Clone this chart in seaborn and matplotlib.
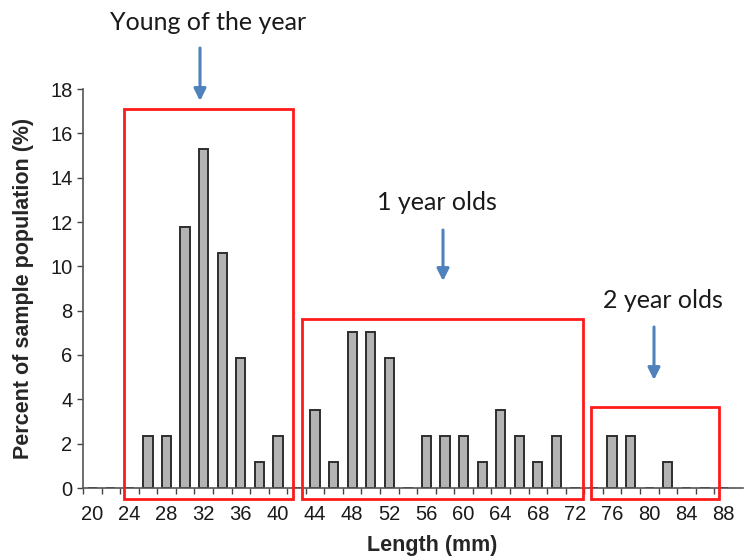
import numpy as np
import pandas as pd
import matplotlib
matplotlib.use("Agg")
import matplotlib.pyplot as plt
import seaborn as sns
from matplotlib.patches import Rectangle

# =============================================================================
# DATA
# =============================================================================
lengths = list(range(20, 90, 2))  # length classes (mm)
percent = [0, 0, 0, 2.35, 2.35, 11.76, 15.29, 10.59, 5.88, 1.18, 2.35,
           0, 3.53, 1.18, 7.06, 7.06, 5.88, 0, 2.35, 2.35, 2.35, 1.18,
           3.53, 2.35, 1.18, 2.35, 0, 0, 2.35, 2.35, 0, 1.18, 0, 0, 0]

# age groups: label, first/last length class boxed, box top (%)
groups = ["Young of the year", "1 year olds", "2 year olds"]
group_from = [23.4, 42.6, 73.7]
group_to = [41.6, 72.9, 87.5]
group_top = [17.1, 7.63, 3.64]

df = pd.DataFrame({"Length": [str(v) for v in lengths], "Percent": percent})

# =============================================================================
# PLOT
# =============================================================================
sns.set_style("ticks")
plt.rcParams['font.family'] = ['Liberation Sans', 'DejaVu Sans']

fig = plt.figure(figsize=(7.44, 5.6), dpi=100)
ax = fig.add_axes([83 / 744, 1 - 488 / 560, 660 / 744, 399 / 560])

sns.barplot(data=df, x="Length", y="Percent", order=df["Length"], ax=ax,
            color="#b3b3b3", saturation=1, edgecolor="#2e2e2e", linewidth=1.4,
            width=0.5)

n = len(lengths)
ax.set_xlim(-0.5, n - 0.5 + 0.55)
ax.set_ylim(0, 18)
ax.set_yticks(np.arange(0, 19, 2))

# ticks at category boundaries, labels every other class
ax.set_xticks(np.arange(n) - 0.5)
ax.set_xticklabels([])
ax.set_xticks(np.arange(0, n, 2), minor=True)
ax.set_xticklabels([str(v) for v in lengths[::2]], minor=True)
ax.tick_params(axis='x', which='major', length=4, width=1, color="#444444", direction='out')
ax.tick_params(axis='x', which='minor', length=0, pad=12, labelsize=14.5, labelcolor="#1a1a1a")
ax.tick_params(axis='y', length=4, width=1, color="#444444", labelsize=14.5, labelcolor="#1a1a1a")

for s in ['left', 'bottom']:
    ax.spines[s].set_color("#555555")
    ax.spines[s].set_linewidth(1.2)
sns.despine(ax=ax)

ax.set_xlabel("Length (mm)", fontsize=15.5, fontweight='bold', va='center')
ax.set_ylabel("Percent of sample population (%)", fontsize=15.5, fontweight='bold', va='center')
ax.xaxis.set_label_coords((432 - 83) / 660, -57 / 399)
ax.yaxis.set_label_coords((24 - 83) / 660, 0.5)

# red boxes around age groups (converted from mm to category position)
def to_pos(mm):
    return (mm - lengths[0]) / 2

for lo, hi, top in zip(group_from, group_to, group_top):
    x0, x1 = to_pos(lo), to_pos(hi)
    ax.add_patch(Rectangle((x0, -0.5), x1 - x0, top + 0.5, fill=False,
                           edgecolor="#ff1a1a", linewidth=2, clip_on=False, zorder=5))

# labels and arrows (figure pixels)
text_xy = [(208, 22), (437, 202), (663, 300)]
arrow_x = [200, 443, 654]
arrow_y = [(48, 101), (230, 281), (327, 380)]
for name, (tx, ty), axx, (y0, y1) in zip(groups, text_xy, arrow_x, arrow_y):
    fig.text(tx / 744, 1 - ty / 560, name, ha='center', va='center',
             fontsize=18, family=['Lato', 'DejaVu Sans'], color="#1a1a1a")
    ax.annotate("", xy=(axx / 744, 1 - y1 / 560), xytext=(axx / 744, 1 - y0 / 560),
                xycoords='figure fraction', textcoords='figure fraction',
                arrowprops=dict(arrowstyle='-|>', color="#4f81bd", lw=2.2,
                                mutation_scale=18, shrinkA=0, shrinkB=0))

plt.savefig("out.png", dpi=100)
